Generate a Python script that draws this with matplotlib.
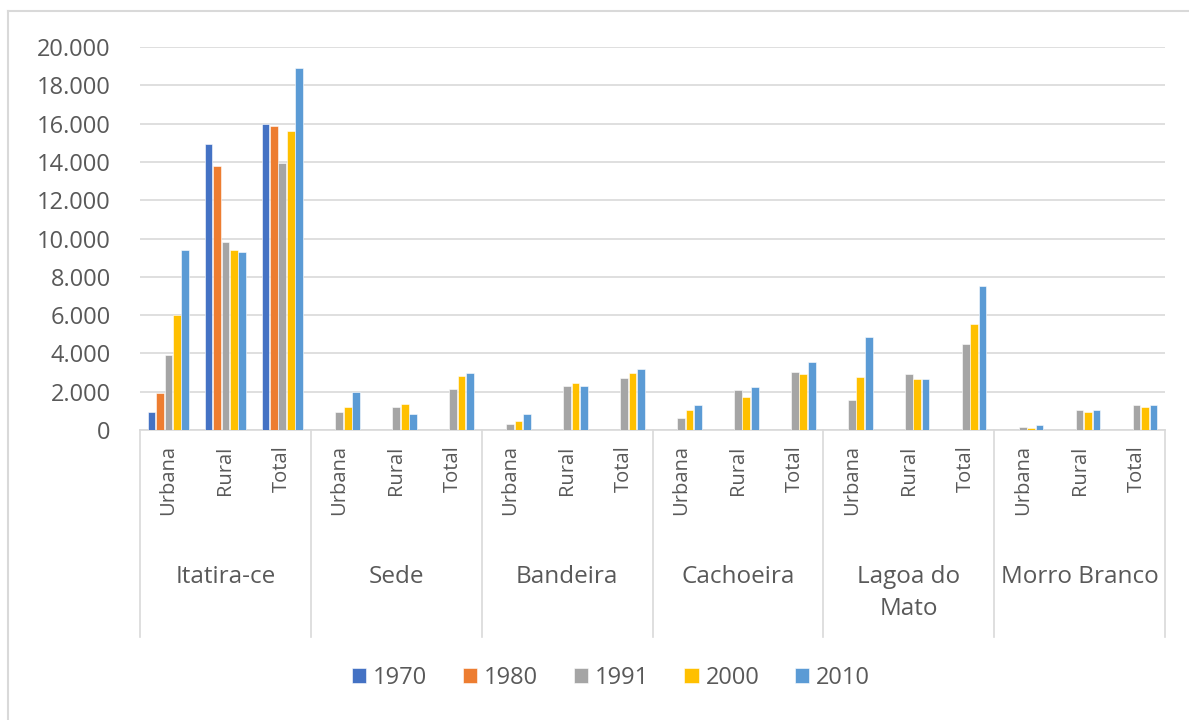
import numpy as np
import matplotlib.pyplot as plt
from matplotlib.lines import Line2D
from matplotlib.ticker import FuncFormatter

groups = ['Itatira-ce', 'Sede', 'Bandeira', 'Cachoeira', 'Lagoa do\nMato', 'Morro Branco']
kinds = ['Urbana', 'Rural', 'Total']
years = ['1970', '1980', '1991', '2000', '2010']
colors = ['#4472C4', '#ED7D31', '#A5A5A5', '#FFC000', '#5B9BD5']

nan = np.nan
# order: Itatira (U,R,T), Sede (U,R,T), Bandeira, Cachoeira, Lagoa do Mato, Morro Branco
v1970 = [950, 14940, 15980] + [nan] * 15
v1980 = [1950, 13780, 15850] + [nan] * 15
v1991 = [3900, 9820, 13920, 960, 1220, 2160, 300, 2280, 2700,
         650, 2110, 3040, 1590, 2900, 4500, 150, 1060, 1310]
v2000 = [6010, 9420, 15610, 1220, 1380, 2840, 450, 2430, 2960,
         1060, 1700, 2900, 2760, 2640, 5540, 130, 920, 1190]
v2010 = [9420, 9300, 18880, 2010, 820, 2960, 840, 2280, 3210,
         1310, 2230, 3560, 4880, 2640, 7520, 280, 1060, 1310]
series = [v1970, v1980, v1991, v2000, v2010]

plt.rcParams['font.family'] = ['Open Sans', 'DejaVu Sans']
txt = '#595959'
grid = '#D9D9D9'

fig = plt.figure(figsize=(11.89, 7.2), dpi=100)
ax = fig.add_axes([140 / 1189, 1 - 430 / 720, 1025 / 1189, 383 / 720])

n = len(groups) * len(kinds)
x = np.arange(n)
w = 0.148
for i, (vals, c, yr) in enumerate(zip(series, colors, years)):
    ax.bar(x + (i - 2) * w, vals, width=w * 0.92, color=c, label=yr,
           edgecolor='white', linewidth=0.4, zorder=3)

ax.set_xlim(-0.5, n - 0.5)
ax.set_ylim(0, 20000)
ax.set_yticks(np.arange(0, 20001, 2000))
ax.yaxis.set_major_formatter(FuncFormatter(lambda v, p: f'{int(v):,}'.replace(',', '.')))
ax.tick_params(axis='y', length=0, labelsize=17, labelcolor=txt, pad=21)
ax.grid(axis='y', color=grid, linewidth=1.2, zorder=0)
for s in ['top', 'right', 'left']:
    ax.spines[s].set_visible(False)
ax.spines['bottom'].set_color(grid)
ax.spines['bottom'].set_linewidth(1.2)
ax.set_xticks([])

# category labels (two levels)
for k in range(n):
    ax.text(k, -0.04, kinds[k % 3], transform=ax.get_xaxis_transform(),
            rotation=90, ha='center', va='top', fontsize=14.5, color=txt)
for g, name in enumerate(groups):
    ax.text(g * 3 + 1, -0.352, name, transform=ax.get_xaxis_transform(),
            ha='center', va='top', fontsize=17.5, color=txt, linespacing=1.45)
for g in range(len(groups) + 1):
    xs = g * 3 - 0.5
    ax.add_line(Line2D([xs, xs], [0, -0.54], transform=ax.get_xaxis_transform(),
                       color=grid, linewidth=1.2, clip_on=False))

ax.legend(loc='center', bbox_to_anchor=(611 / 1189, 1 - 678 / 720),
          bbox_transform=fig.transFigure, ncol=5, frameon=False,
          fontsize=17, labelcolor=txt, handlelength=0.6, handleheight=0.6,
          handletextpad=0.3, columnspacing=1.5)

# outer chart frame
fig.add_artist(Line2D([8 / 1189, 8 / 1189], [0, 1 - 11 / 720], transform=fig.transFigure,
                      color=grid, linewidth=1.5))
fig.add_artist(Line2D([8 / 1189, 1], [1 - 11 / 720, 1 - 11 / 720], transform=fig.transFigure,
                      color=grid, linewidth=1.5))

fig.savefig('out.png', dpi=100)
